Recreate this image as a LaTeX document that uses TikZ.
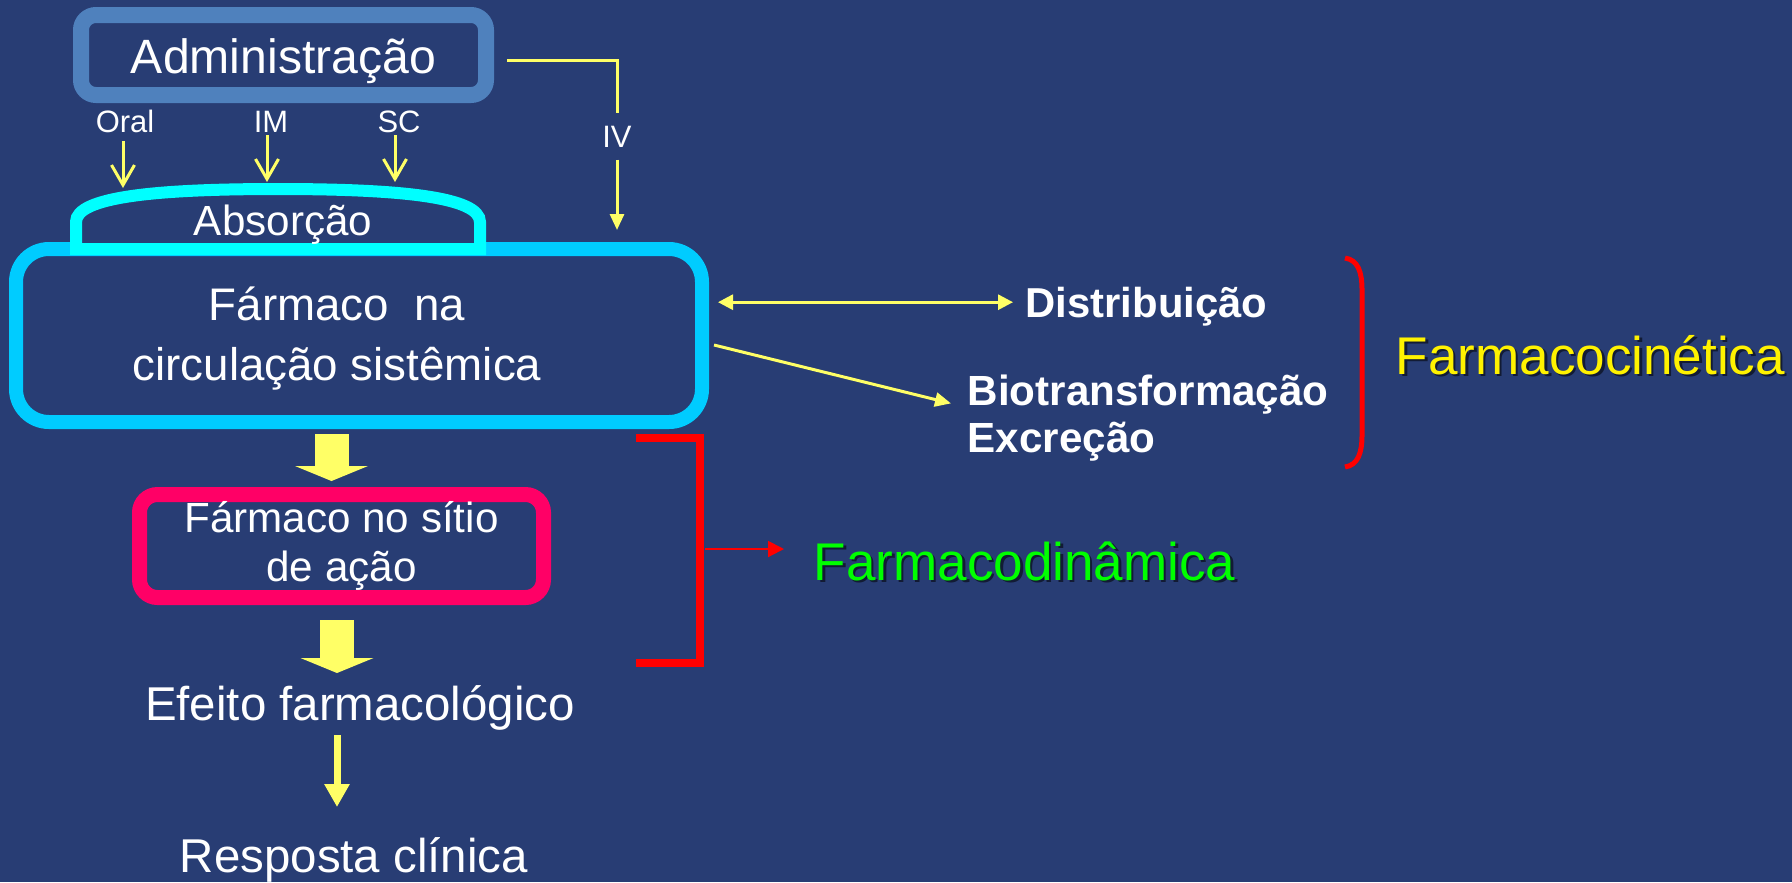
\documentclass[tikz,border=0pt]{standalone}
\usepackage{fontspec}
\setmainfont{Liberation Sans}
\usepackage{tikz}
\usetikzlibrary{arrows.meta,calc}

\definecolor{fundo}{RGB}{40,61,116}
\definecolor{azuladm}{RGB}{79,129,189}
\definecolor{ciano}{RGB}{0,255,255}
\definecolor{azulcirc}{RGB}{0,204,255}
\definecolor{rosa}{RGB}{255,0,102}
\definecolor{amarelo}{RGB}{255,255,102}
\definecolor{verde}{RGB}{0,255,0}

\begin{document}
\begin{tikzpicture}[x=0.1mm, y=-0.1mm,
    txt/.style={text=white, inner sep=0pt},
    caixa/.style={inner sep=0pt, outer sep=0pt},
    via/.style={text=white, inner sep=1.2mm, font=\fontsize{8.8}{10}\selectfont},
    seta/.style={amarelo, line width=0.3mm, -{Straight Barb[length=2mm,width=2.3mm]}},
    setaf/.style={amarelo, line width=0.3mm, -{Triangle[length=1.6mm,width=1.4mm]}},
    bloco/.style={amarelo, line width=3.4mm, -{Triangle[length=1.5mm 0 0,width=7.3mm 0 0,line width=0pt]}},
    titulo/.style={inner sep=0pt, anchor=base west, font=\fontsize{15.1}{18}\selectfont},
    sombra/.style={titulo, text=black, opacity=0.55}]
    % Slide background
    \fill[fundo] (0,0) rectangle (1792,882);
    \useasboundingbox (0,0) rectangle (1792,882);
    % Administracao
    \node[caixa, draw=azuladm, line width=1.6mm, rounded corners=1.5mm, minimum width=4.05cm, minimum height=0.8cm] (adm) at (283.5,55) {};
    \node[txt, anchor=base, font=\fontsize{13.7}{16}\selectfont] (admtxt) at ([yshift=-1.8mm]adm.center) {Administração};
    % Routes
    \node[via, anchor=base] (oral) at (125,132) {Oral};
    \node[via, anchor=base] (im) at (271,132) {IM};
    \node[via, anchor=base] (sc) at (399,132) {SC};
    \node[via, anchor=base] (iv) at (617,147) {IV};
    % Farmaco na circulacao
    \node[caixa, draw=azulcirc, line width=1.4mm, rounded corners=3.3mm, minimum width=6.86cm, minimum height=1.73cm] (circ) at (359,335.5) {};
    \node[txt, align=center, font=\fontsize{13}{16.8}\selectfont] (circtxt) at ([xshift=-2.2mm,yshift=-0.3mm]circ.center) {Fármaco\ \ na\\circulação sistêmica};
    % Absorcao cap
    \draw[ciano, line width=1.2mm, fill=fundo] (76,249) -- (76,222) .. controls (76,197) and (155,189) .. (278,189) .. controls (401,189) and (480,197) .. (480,222) -- (480,249) -- cycle;
    \node[txt, anchor=base, font=\fontsize{12}{14}\selectfont] (abs) at (283,235) {Absorção};
    \draw[seta] ([shift={(-0.2mm,-0.9mm)}]oral.base) -- ++(0,47);
    \draw[seta] ([shift={(-0.4mm,-0.3mm)}]im.base) -- ++(0,47);
    \draw[seta] ([shift={(-0.4mm,-0.3mm)}]sc.base) -- ++(0,47);
    \draw[amarelo, line width=0.3mm] ([shift={(2.1mm,-0.5mm)}]adm.east) -| (iv.north);
    \draw[setaf, shorten >=1.9mm] (iv.south) -- (iv.south |- circ.north);
    % Distribuicao
    \node[txt, anchor=base west, font=\bfseries\fontsize{11.9}{14}\selectfont] (dist) at (1025,317) {Distribuição};
    \draw[amarelo, line width=0.3mm, {Triangle[length=1.5mm,width=1.5mm]}-{Triangle[length=1.5mm,width=1.5mm]}, shorten <=1.6mm, shorten >=1.2mm] ([yshift=0.4mm]dist.west -| circ.east) -- ([yshift=0.4mm]dist.west);
    % Biotransformacao e excrecao
    \node[txt, anchor=north west, align=left, font=\bfseries\fontsize{12}{13.4}\selectfont] (bio) at (967,374) {Biotransformação\\Excreção};
    \draw[setaf] ([shift={(1.2mm,-0.95mm)}]circ.east) -- ([shift={(-1.6mm,1.45mm)}]bio.west);
    % Farmacocinetica
    \draw[red, line width=0.5mm] (1345,258) .. controls (1358,260) and (1362,272) .. (1362,290) -- (1362,435) .. controls (1362,453) and (1358,465) .. (1345,467);
    \node[sombra] (fcinsombra) at (1397.5,376.5) {Farmacocinética};
    \node[titulo, text=yellow] (fcin) at (1395,374) {Farmacocinética};
    % Farmaco no sitio de acao
    \node[caixa, draw=rosa, line width=1.5mm, rounded corners=1.8mm, minimum width=4.04cm, minimum height=1.03cm, text=white, align=center, font=\fontsize{12}{13.9}\selectfont] (sitio) at (341.5,546) {Fármaco no sítio\\de ação};
    \draw[bloco] ($(sitio.north |- circ.south)+(-10,12)$) -- ($(sitio.north)+(-10,-13.5)$);
    % Farmacodinamica
    \draw[red, line width=0.8mm] (636,438) -- (700,438) -- (700,663) -- (636,663);
    \coordinate (chave) at (700,549);
    \node[sombra] (fdinsombra) at (815.5,582.5) {Farmacodinâmica};
    \node[titulo, text=verde] (fdin) at (813,580) {Farmacodinâmica};
    \draw[red, line width=0.2mm, -{Triangle[length=1.6mm,width=1.6mm]}, shorten <=0.5mm, shorten >=2.9mm] (chave) -- (chave -| fdin.west);
    % Efeito e resposta
    \node[txt, anchor=base, font=\fontsize{13.5}{16}\selectfont] (efeito) at (360,720) {Efeito farmacológico};
    \node[txt, anchor=base, font=\fontsize{13.5}{16}\selectfont] (resp) at (354,872) {Resposta clínica};
    \draw[bloco] ($(sitio.south)+(-4.5,22.5)$) -- ++(0,53);
    \draw[amarelo, line width=0.7mm, -{Triangle[length=2.3mm,width=2.4mm]}] ($(efeito.base)+(-23,15)$) -- ($(resp.base)+(-17,-65)$);
\end{tikzpicture}
\end{document}
